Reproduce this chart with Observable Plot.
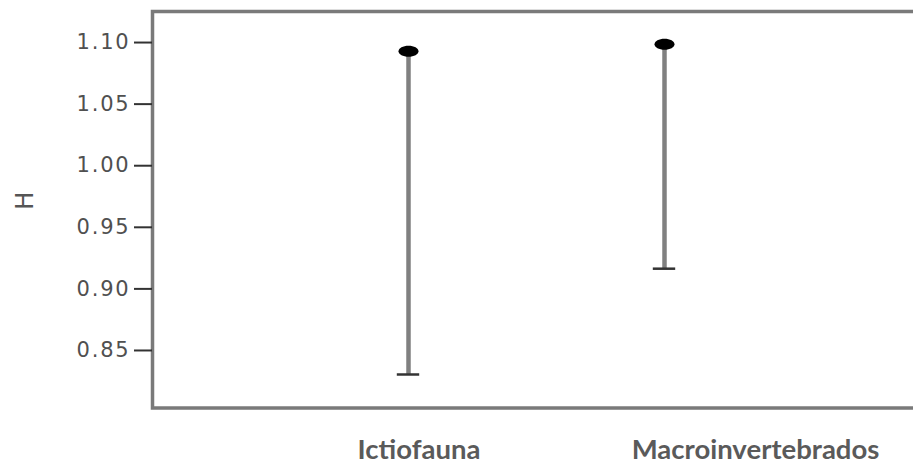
<!DOCTYPE html>
<html><head><meta charset="utf-8">
<script src="https://cdn.jsdelivr.net/npm/d3@7"></script>
<script src="https://cdn.jsdelivr.net/npm/@observablehq/plot@0.6"></script>
<style>
html,body{margin:0;padding:0;background:#fff;overflow:hidden}
#chart svg{display:block}
#chart g[aria-label="y-axis tick label"] text{letter-spacing:1.8px}
</style></head><body><div id="chart"></div>
<script>
const categories = ["Ictiofauna", "Macroinvertebrados"];
const upper = [1.0929, 1.0986];
const lower = [0.8305, 0.9164];
const yTicks = [0.85, 0.90, 0.95, 1.00, 1.05, 1.10];
const yLabel = "H";

const data = categories.map((c, i) => ({cat: c, hi: upper[i], lo: lower[i]}));

const ellipse = {
  draw(ctx) {
    const rx = 10, ry = 5.5, k = 0.5523;
    ctx.moveTo(rx, 0);
    ctx.bezierCurveTo(rx, ry * k, rx * k, ry, 0, ry);
    ctx.bezierCurveTo(-rx * k, ry, -rx, ry * k, -rx, 0);
    ctx.bezierCurveTo(-rx, -ry * k, -rx * k, -ry, 0, -ry);
    ctx.bezierCurveTo(rx * k, -ry, rx, -ry * k, rx, 0);
    ctx.closePath();
  }
};

const chart = Plot.plot({
  width: 913,
  height: 466,
  marginLeft: 152,
  marginRight: 0,
  marginTop: 11,
  marginBottom: 58.5,
  x: {type: "band", domain: categories, paddingInner: 0.9, paddingOuter: 0.9344, align: 0.506, axis: null},
  y: {domain: [0.8033, 1.1252], axis: null},
  marks: [
    Plot.frame({stroke: "#7a7a7a", strokeWidth: 3.5, insetRight: -6}),
    Plot.axisY(yTicks, {
      tickSize: 18, tickPadding: 4, tickFormat: d3.format(".2f"),
      fontSize: 21, fontFamily: "DejaVu Sans", fill: "#505050",
      stroke: "#333", strokeWidth: 2, label: null
    }),
    Plot.text([yLabel], {frameAnchor: "left", dx: -127, rotate: -90, fontSize: 24, fontFamily: "DejaVu Sans", fill: "#555"}),
    Plot.ruleX(data, {x: "cat", y1: "lo", y2: "hi", stroke: "#808080", strokeWidth: 4.5}),
    Plot.tickY(data, {x: "cat", y: "lo", stroke: "#333", strokeWidth: 2.5, insetLeft: 1.8, insetRight: 1.8}),
    Plot.dot(data, {x: "cat", y: "hi", symbol: ellipse, fill: "#000", stroke: "none"}),
    Plot.text(data.filter(d => d.cat === categories[0]), {
      x: "cat", text: "cat", frameAnchor: "bottom", lineAnchor: "bottom", dy: 51, dx: 10.5,
      fontSize: 27.5, fontWeight: "bold", fontFamily: "Lato", fill: "#5a5a5a"
    }),
    Plot.text(data.filter(d => d.cat === categories[1]), {
      x: "cat", text: "cat", frameAnchor: "bottom", lineAnchor: "bottom", dy: 51, dx: 91,
      fontSize: 27.5, fontWeight: "bold", fontFamily: "Lato", fill: "#5a5a5a"
    })
  ]
});
document.getElementById("chart").append(chart);
</script>
</body></html>
